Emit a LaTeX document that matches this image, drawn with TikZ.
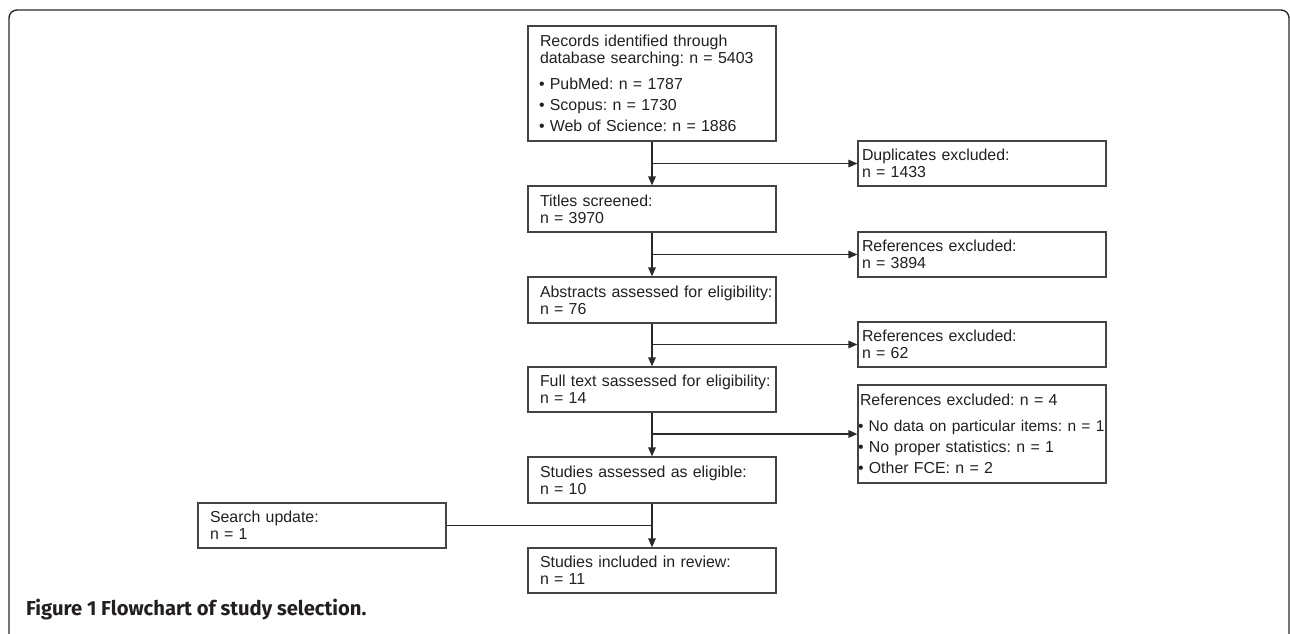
\documentclass[tikz,border=0pt]{standalone}
\usepackage{fontspec}
\setmainfont{Liberation Sans}
\newfontfamily\capfont{Fira Sans}
\usetikzlibrary{arrows.meta}
\definecolor{boxc}{HTML}{444444}
\definecolor{linec}{HTML}{2A2A2A}
\definecolor{txt}{HTML}{231F20}
\frenchspacing
\begin{document}
\begin{tikzpicture}[x=1pt,y=-1pt,
  boxbase/.style={draw=boxc, line width=1.2pt, minimum width=248pt, inner sep=0pt,
    align=left, text=txt, font=\fontsize{15.9}{17}\selectfont},
  mbox/.style={boxbase, text width=224pt},
  rbox/.style={boxbase, text width=240pt},
  arr/.style={draw=linec, line width=1.5pt, -{Triangle[length=9pt,width=7.5pt]}},
  ln/.style={draw=linec, line width=1.5pt},
  framestyle/.style={draw=linec, line width=1.4pt, rounded corners=8pt}]
\useasboundingbox (0,0) rectangle (1290,633);
\draw[framestyle] (9,660) -- (9,10) -- (1289,10) -- (1289,660);

\node[mbox, minimum height=115pt] (rec) at (652,83.5)
  {Records identified through\\database searching: n = 5403\\[9pt]%
   \hspace*{-1pt}• PubMed: n = 1787\\[4pt]\hspace*{-1pt}• Scopus: n = 1730\\[4pt]\hspace*{-1pt}• Web of Science: n = 1886};
\node[mbox, minimum height=46pt] (tit) at (652,209) {Titles screened:\\n = 3970};
\node[mbox, minimum height=46pt] (abs) at (652,300) {\mbox{Abstracts assessed for eligibility:}\\n = 76};
\node[mbox, minimum height=45pt] (full) at (652,389.5) {\mbox{Full text sassessed for eligibility:}\\n = 14};
\node[mbox, minimum height=46pt] (elig) at (652,480) {Studies assessed as eligible:\\n = 10};
\node[mbox, minimum height=45pt] (incl) at (652,570.5) {Studies included in review:\\n = 11};
\node[mbox, minimum height=45pt] (srch) at (322,525.5) {Search update:\\n = 1};

\node[rbox, minimum height=45pt] (dup) at (982,163.5) {Duplicates excluded:\\n = 1433};
\node[rbox, minimum height=45pt] (ref1) at (982,254.5) {References excluded:\\n = 3894};
\node[rbox, minimum height=45pt] (ref2) at (982,344.5) {References excluded:\\n = 62};
\node[rbox, minimum height=98pt] (ref4) at (982,434)
  {\hspace*{-2pt}References excluded: n = 4\\[8.7pt]%
   \mbox{\hspace*{-4pt}\fontsize{15.5}{17}\selectfont • No data on particular items: n = 1}\\[4pt]%
   \hspace*{-4pt}• No proper statistics: n = 1\\[4pt]%
   \hspace*{-4pt}• Other FCE: n = 2};

\draw[arr] (rec) -- (tit);
\draw[arr] (tit) -- (abs);
\draw[arr] (abs) -- (full);
\draw[arr] (full) -- (elig);
\draw[arr] (elig) -- (incl);
\draw[arr] (rec.south |- dup.west) -- (dup.west);
\draw[arr] (tit.south |- ref1.west) -- (ref1.west);
\draw[arr] (abs.south |- ref2.west) -- (ref2.west);
\draw[arr] (full.south |- ref4.west) -- (ref4.west);
\draw[ln] (srch.east) -- (srch.east -| elig.south);

\node[anchor=base west, inner sep=0pt, text=txt,
  font=\capfont\bfseries\fontsize{20.2}{24}\selectfont] (cap) at (26,615)
  {Figure 1 Flowchart of study selection.};
\end{tikzpicture}
\end{document}
